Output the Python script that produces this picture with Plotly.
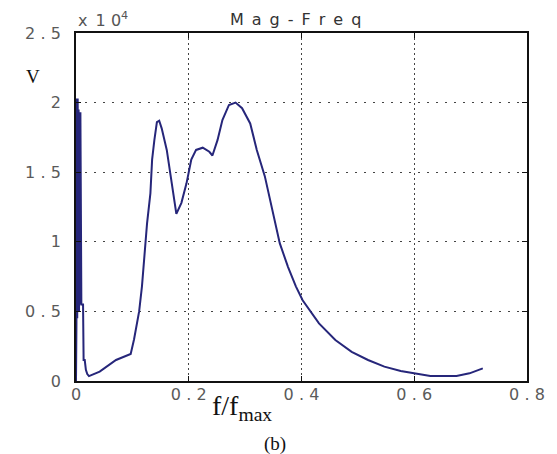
import plotly.graph_objects as go

# frequency (f/fmax) and magnitude (x 10^4)
freq = [0.0, 0.0008, 0.0015, 0.0022, 0.003, 0.0038, 0.0046, 0.0054, 0.0062, 0.007, 0.0078,
        0.0086, 0.0095, 0.011, 0.0125, 0.0135, 0.0155, 0.0175, 0.02, 0.023,
        0.042, 0.071, 0.097, 0.103, 0.112, 0.117, 0.123, 0.126, 0.132, 0.135, 0.139,
        0.1435, 0.1476, 0.152, 0.161, 0.167, 0.1726, 0.178, 0.187, 0.196, 0.2045,
        0.213, 0.2248, 0.2365, 0.242, 0.251, 0.2597, 0.2713, 0.283, 0.2946, 0.309,
        0.3207, 0.335, 0.347, 0.3614, 0.376, 0.390, 0.402, 0.431, 0.46, 0.489,
        0.518, 0.547, 0.576, 0.5996, 0.6286, 0.675, 0.698, 0.7216]
mag = [0.0, 0.42, 2.03, 0.45, 2.03, 0.5, 1.95, 0.5, 1.93, 0.55, 1.93,
       0.55, 0.55, 0.55, 0.55, 0.15, 0.15, 0.08, 0.05, 0.035,
       0.067, 0.151, 0.194, 0.30, 0.50, 0.68, 0.965, 1.13, 1.35, 1.59, 1.73,
       1.86, 1.87, 1.815, 1.66, 1.49, 1.32, 1.20, 1.28, 1.42, 1.59,
       1.66, 1.676, 1.647, 1.62, 1.73, 1.875, 1.983, 2.0, 1.96, 1.85,
       1.66, 1.47, 1.25, 0.99, 0.82, 0.68, 0.58, 0.414, 0.295, 0.21,
       0.151, 0.103, 0.072, 0.055, 0.036, 0.036, 0.055, 0.091]

xticks = [0, 0.2, 0.4, 0.6, 0.8]
xticklabels = ["0", "0.2", "0.4", "0.6", "0.8"]
yticks = [0, 0.5, 1, 1.5, 2, 2.5]
yticklabels = ["0", "0.5", "1", "1.5", "2", "2.5"]

SP = "\u2002"   # en space
TSP = "\u2004"  # three-per-em space


def spaced(s, sp):
    return sp.join(list(s))


fig = go.Figure()
fig.add_trace(go.Scatter(x=freq, y=mag, mode="lines",
                         line=dict(color="#26267a", width=2), showlegend=False))

tickfont = dict(family="DejaVu Sans, Arial, sans-serif", size=16, color="#5a5a5a")
axis_common = dict(showline=True, linecolor="#111111", linewidth=1.5, mirror="allticks",
                   ticks="inside", ticklen=5, tickcolor="#111111",
                   showgrid=True, gridcolor="#444444", gridwidth=1,
                   zeroline=False, tickfont=tickfont)
fig.update_xaxes(range=[0, 0.8], tickvals=xticks,
                 ticktext=[spaced(t, TSP) for t in xticklabels],
                 griddash="2px,3px", ticklabelstandoff=-2, **axis_common)
fig.update_yaxes(range=[0, 2.5], tickvals=yticks,
                 ticktext=[spaced(t, TSP) for t in yticklabels],
                 griddash="2px,7px", ticklabelstandoff=10, **axis_common)

fig.update_layout(
    width=557, height=454, autosize=False,
    margin=dict(l=76, r=22, t=33, b=73),
    paper_bgcolor="white", plot_bgcolor="white",
    annotations=[
        dict(text=spaced("Mag-Freq", SP), x=(299 - 76) / 459, y=1, xref="paper", yref="paper",
             xanchor="center", yanchor="bottom", yshift=2, showarrow=False,
             font=dict(family="DejaVu Sans, Arial, sans-serif", size=16, color="#333333")),
        dict(text="x" + SP + "1" + TSP + "0<sup>4</sup>", x=0, y=1, xref="paper", yref="paper",
             xanchor="left", yanchor="bottom", yshift=1, showarrow=False,
             font=dict(family="DejaVu Sans, Arial, sans-serif", size=16, color="#555555")),
        dict(text="V", x=-0.095, y=0.875, xref="paper", yref="paper", showarrow=False,
             xanchor="center", yanchor="middle",
             font=dict(family="Liberation Serif, Times New Roman, serif", size=19, color="#111111")),
        dict(text="f/f<sub>max</sub>", x=0.368, y=-0.02, xref="paper", yref="paper",
             xanchor="center", yanchor="top", showarrow=False,
             font=dict(family="Liberation Serif, Times New Roman, serif", size=28, color="#111111")),
        dict(text="(b)", x=0.442, y=-0.181, xref="paper", yref="paper",
             xanchor="center", yanchor="middle", showarrow=False,
             font=dict(family="Liberation Serif, Times New Roman, serif", size=19, color="#111111")),
    ],
)

fig.write_html("out.html")
